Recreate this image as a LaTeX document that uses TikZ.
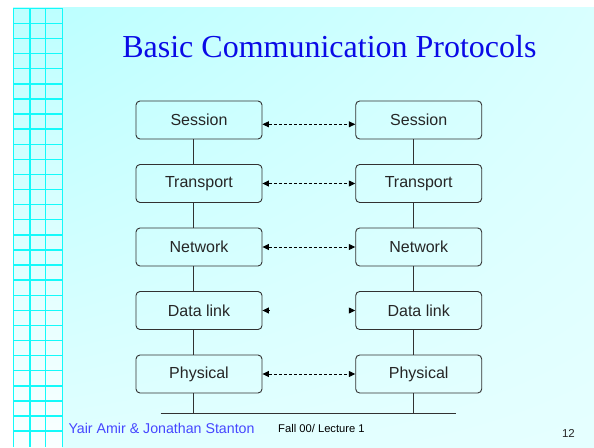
\documentclass[tikz,border=0pt]{standalone}
\usepackage{fontspec}
\setmainfont{Liberation Sans}
\newfontfamily\titlefont{Liberation Serif}
\usetikzlibrary{arrows.meta,shadings}
\definecolor{gridcyan}{RGB}{20,250,250}
\definecolor{titleblue}{RGB}{10,10,230}
\definecolor{authblue}{RGB}{70,70,255}
\definecolor{boxline}{RGB}{50,50,50}
\tikzset{
  layerbox/.style={draw=boxline, line width=0.9pt, rounded corners=4pt,
    minimum width=126pt, minimum height=38pt, inner sep=0pt,
    font=\fontsize{16pt}{18pt}\selectfont, text=black!85},
  stack/.style={draw=boxline, line width=0.9pt},
  peer/.style={draw=black, line width=0.8pt, dash pattern=on 3pt off 2pt,
    {Triangle[length=6.5pt,width=6pt]}-{Triangle[length=6.5pt,width=6pt]}},
  halftip/.style={draw=black, line width=0.8pt, -{Triangle[length=6.5pt,width=6pt]}},
}
\begin{document}
\begin{tikzpicture}[x=1pt,y=-1pt]
\useasboundingbox (0,0) rectangle (594,447);
\fill[white] (0,0) rectangle (594,447);
% slide background
\shade[upper left=cyan!26, upper right=cyan!15, lower left=cyan!12, lower right=cyan!10]
  (62,7) rectangle (594,447);
\shade[top color=cyan!26, bottom color=cyan!2] (13,7) rectangle (62,447);
% grid
\foreach \x in {13.3,30,45.7,62.3} \draw[gridcyan, line width=1.4pt] (\x,8) -- (\x,447);
\foreach \i in {0,...,28} \draw[gridcyan, line width=1.4pt] (13.3,8.3+15.1*\i) -- (62.3,8.3+15.1*\i);
% title
\node[anchor=base, font=\titlefont\fontsize{32pt}{36pt}\selectfont, text=titleblue, inner sep=0pt]
  (title) at (329.4,57.7) {Basic Communication Protocols};
% boxes
\node[layerbox] (L1) at (199,120) {Session};
\node[layerbox] (L2) at (199,183.5) {Transport};
\node[layerbox] (L3) at (199,247) {Network};
\node[layerbox] (L4) at (199,310.5) {Data link};
\node[layerbox] (L5) at (199,374) {Physical};
\node[layerbox] (R1) at (418.7,120) {Session};
\node[layerbox] (R2) at (418.7,183.5) {Transport};
\node[layerbox] (R3) at (418.7,247) {Network};
\node[layerbox] (R4) at (418.7,310.5) {Data link};
\node[layerbox] (R5) at (418.7,374) {Physical};
% stack lines
\foreach \a/\b in {1/2,2/3,3/4,4/5}{
  \draw[stack] ([xshift=-5.3pt]L\a.south) -- ([xshift=-5.3pt]L\b.north);
  \draw[stack] ([xshift=-5.3pt]R\a.south) -- ([xshift=-5.3pt]R\b.north);
}
\coordinate (bl) at (160.7,413.3);
\coordinate (br) at (456,413.3);
\draw[stack] ([xshift=-5.3pt]L5.south) -- ([xshift=-5.3pt]L5.south |- bl);
\draw[stack] ([xshift=-5.3pt]R5.south) -- ([xshift=-5.3pt]R5.south |- bl);
\draw[stack] (bl) -- (br);
% peer arrows
\draw[peer] ([yshift=-4.3pt]L1.east) -- ([yshift=-4.3pt]R1.west);
\draw[peer] (L2.east) -- (R2.west);
\draw[peer] (L3.east) -- (R3.west);
\draw[peer] (L5.east) -- (R5.west);
\draw[halftip] ([xshift=6.5pt]L4.east) -- (L4.east);
\draw[halftip] ([xshift=-6.5pt]R4.west) -- (R4.west);
% footer
\node[anchor=base west, inner sep=0pt, text=authblue, font=\fontsize{14.2pt}{16pt}\selectfont]
  (auth) at (68.3,433.3) {Yair Amir \& Jonathan Stanton};
\node[anchor=base west, inner sep=0pt, text=black, font=\fontsize{11.2pt}{13pt}\selectfont]
  (lect) at (278,432.7) {Fall 00/ Lecture 1};
\node[anchor=base east, inner sep=0pt, text=black!85, font=\fontsize{11.5pt}{13pt}\selectfont]
  (pg) at (575,437.3) {12};
\end{tikzpicture}
\end{document}
